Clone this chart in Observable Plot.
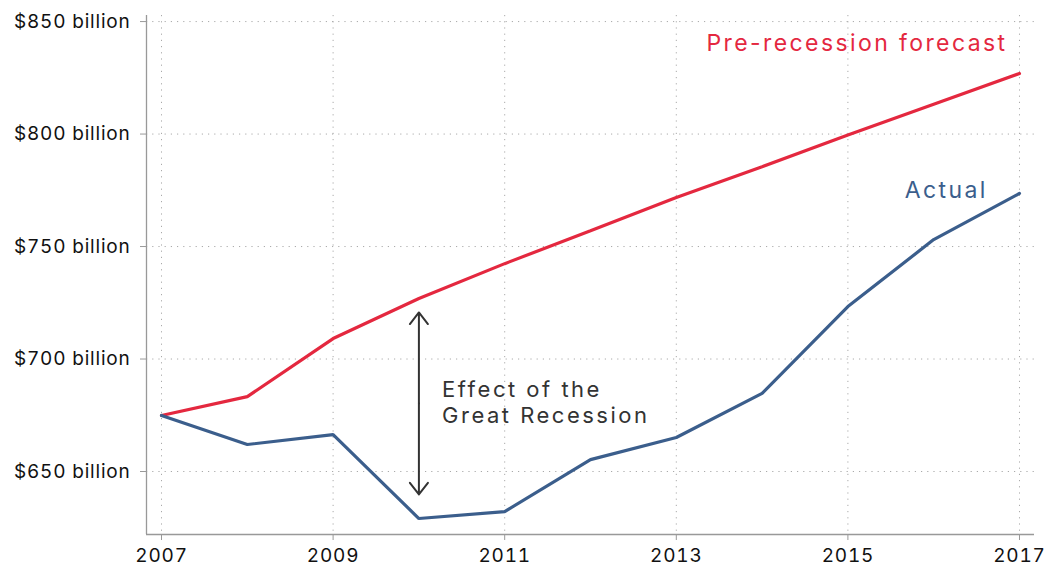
<!DOCTYPE html>
<html>
<head>
<meta charset="utf-8">
<script src="https://cdn.jsdelivr.net/npm/d3@7"></script>
<script src="https://cdn.jsdelivr.net/npm/@observablehq/plot@0.6"></script>
<style>
  html, body { margin: 0; padding: 0; background: #fff; }
  #chart svg { display: block; }
  #chart g[font-size="19"] { letter-spacing: 0.8px; }
  #chart g[font-size="22"] { letter-spacing: 2.5px; }
  #chart g[font-size="23"] { letter-spacing: 2.4px; }
</style>
</head>
<body>
<div id="chart"></div>
<script>
const years = [2007, 2008, 2009, 2010, 2011, 2012, 2013, 2014, 2015, 2016, 2017];
const forecast = [674.9, 683.3, 709.1, 726.9, 742.4, 757.0, 771.8, 785.5, 799.6, 813.3, 826.9];
const actual = [674.9, 662.0, 666.4, 629.1, 632.2, 655.3, 665.1, 684.7, 723.3, 753.1, 773.6];
const xTicks = [2007, 2009, 2011, 2013, 2015, 2017];
const yTicks = [650, 700, 750, 800, 850];
const seriesLabels = ["Pre-recession forecast", "Actual"];
const annotationText = "Effect of the\nGreat Recession";

const red = "#e4283f";
const blue = "#3b5e8c";
const font = "Inter, 'Open Sans', sans-serif";

const rows = years.flatMap((y, i) => [
  {year: y, value: forecast[i], series: seriesLabels[0]},
  {year: y, value: actual[i], series: seriesLabels[1]}
]);

const xDomain = [2006.825, 2017.175];
const yDomain = [622, 852.7];
const arrowTop = 720.7, arrowBottom = 639.8, arrowMid = (arrowTop + arrowBottom) / 2;

const chart = Plot.plot({
  width: 1047,
  height: 569,
  marginLeft: 146,
  marginRight: 13,
  marginTop: 15,
  marginBottom: 35,
  style: {fontFamily: font, fontSize: "19px", color: "#111", background: "#fff"},
  x: {domain: xDomain},
  y: {domain: yDomain},
  color: {domain: seriesLabels, range: [red, blue]},
  marks: [
    Plot.gridY(yTicks, {stroke: "#aaa", strokeOpacity: 1, strokeDasharray: "1.2,5"}),
    Plot.gridX(xTicks, {stroke: "#aaa", strokeOpacity: 1, strokeDasharray: "1.2,5"}),
    Plot.ruleX([xDomain[0]], {stroke: "#999", strokeWidth: 1.3}),
    Plot.ruleY([yDomain[0]], {stroke: "#999", strokeWidth: 1.3}),
    Plot.axisY(yTicks, {tickSize: 6, tickPadding: 10, stroke: "#999", fill: "#111", fontSize: 19,
      tickFormat: d => `$${d} billion`, label: null}),
    Plot.axisX(xTicks, {tickSize: 6, tickPadding: 8, stroke: "#999", fill: "#111", fontSize: 19,
      tickFormat: d => String(d), label: null}),
    Plot.line(rows, {x: "year", y: "value", stroke: "series", strokeWidth: 3.2, strokeLinejoin: "miter"}),
    Plot.arrow([{y1: arrowMid, y2: arrowTop}, {y1: arrowMid, y2: arrowBottom}], {
      x1: () => years[3], x2: () => years[3], y1: "y1", y2: "y2",
      stroke: "#333", strokeWidth: 2, headLength: 11, headAngle: 76
    }),
    Plot.text([annotationText], {
      x: 2010.27, y: 680.9, text: d => d, textAnchor: "start", lineAnchor: "middle",
      lineHeight: 1.15, fontSize: 22, fill: "#333"
    }),
    Plot.text([seriesLabels[0]], {
      x: 2016.86, y: 840, text: d => d, textAnchor: "end", lineAnchor: "middle",
      fontSize: 23, fill: red
    }),
    Plot.text([seriesLabels[1]], {
      x: 2016.63, y: 774.9, text: d => d, textAnchor: "end", lineAnchor: "middle",
      fontSize: 23, fill: blue
    })
  ]
});
document.getElementById("chart").appendChild(chart);
</script>
</body>
</html>
